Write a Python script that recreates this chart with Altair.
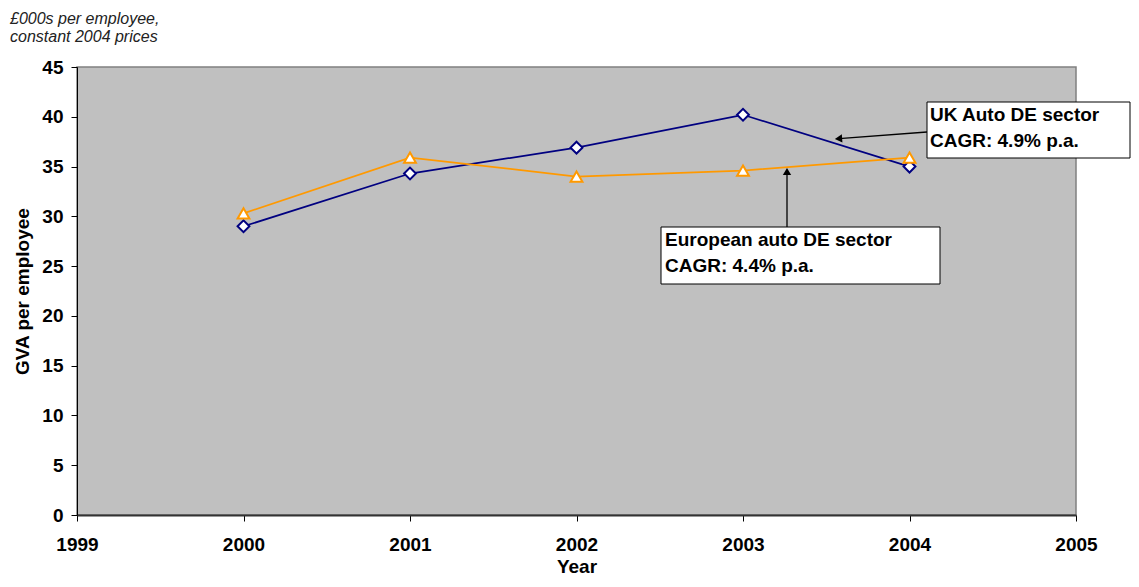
import altair as alt
import pandas as pd

# ---- data ----
years = [2000, 2001, 2002, 2003, 2004]
uk_gva = [29.0, 34.3, 36.9, 40.2, 35.0]
eu_gva = [30.3, 35.9, 34.0, 34.6, 35.9]
series = ["UK Auto DE sector", "European auto DE sector"]
x_ticks = [1999, 2000, 2001, 2002, 2003, 2004, 2005]
y_ticks = [0, 5, 10, 15, 20, 25, 30, 35, 40, 45]
uk_note = ["UK Auto DE sector", "CAGR: 4.9% p.a."]
eu_note = ["European auto DE sector", "CAGR: 4.4% p.a."]
unit_note = ["£000s per employee,", "constant 2004 prices"]

FONT = "Liberation Sans"

df = pd.DataFrame({
    "Year": years + years,
    "GVA": uk_gva + eu_gva,
    "Series": [series[0]] * len(years) + [series[1]] * len(years),
})

x = alt.X("Year:Q",
          scale=alt.Scale(domain=[1999, 2005], nice=False, zero=False),
          axis=alt.Axis(values=x_ticks, format="d", title="Year", tickSize=6,
                        labelPadding=14, titleY=57, titleBaseline="alphabetic",
                        domainColor="#333333", domainWidth=2, labelFlush=False,
                        labelOverlap=False))
y = alt.Y("GVA:Q",
          scale=alt.Scale(domain=[0, 45], nice=False),
          axis=alt.Axis(values=y_ticks, title="GVA per employee", tickSize=6,
                        labelPadding=8, titleX=-49, titleY=224,
                        titleBaseline="alphabetic", titleAlign="center",
                        domainColor="#000000", domainWidth=1, labelFlush=False,
                        labelOverlap=False))
color = alt.Color("Series:N", scale=alt.Scale(domain=series, range=["#000080", "#FF9900"]), legend=None)
shape = alt.Shape("Series:N", scale=alt.Scale(domain=series, range=["diamond", "triangle-up"]), legend=None)

lines = alt.Chart(df).mark_line(strokeWidth=1.75).encode(x=x, y=y, color=color, detail="Series:N")
points = alt.Chart(df).mark_point(filled=False, fill="white", fillOpacity=1, opacity=1,
                                  size=140, strokeWidth=2).encode(x=x, y=y, color=color, shape=shape)

one = pd.DataFrame({"k": [0]})
layers = [lines, points]

# annotation arrows
layers.append(alt.Chart(one).mark_rule(color="black", strokeWidth=1.3).encode(
    x=alt.value(850), y=alt.value(65), x2=alt.value(762), y2=alt.value(71.7)))
layers.append(alt.Chart(one).mark_point(shape="triangle-left", angle=356, filled=True,
                                        color="black", opacity=1, size=70).encode(
    x=alt.value(761.5), y=alt.value(71.7)))
layers.append(alt.Chart(one).mark_rule(color="black", strokeWidth=1.3).encode(
    x=alt.value(710), y=alt.value(160), y2=alt.value(105)))
layers.append(alt.Chart(one).mark_point(shape="triangle-up", filled=True,
                                        color="black", opacity=1, size=70).encode(
    x=alt.value(710), y=alt.value(104.5)))

# annotation boxes
layers.append(alt.Chart(one).mark_rect(fill="white", stroke="black", strokeWidth=1).encode(
    x=alt.value(850), x2=alt.value(1053), y=alt.value(35), y2=alt.value(91)))
layers.append(alt.Chart(one).mark_rect(fill="white", stroke="black", strokeWidth=1).encode(
    x=alt.value(584), x2=alt.value(863), y=alt.value(160), y2=alt.value(217)))

for txt, yy in zip(uk_note, [54, 80]):
    layers.append(alt.Chart(one).mark_text(align="left", baseline="alphabetic", font=FONT,
                                           fontSize=19, fontWeight="bold", color="black").encode(
        x=alt.value(853), y=alt.value(yy), text=alt.value(txt)))
for txt, yy in zip(eu_note, [179, 205]):
    layers.append(alt.Chart(one).mark_text(align="left", baseline="alphabetic", font=FONT,
                                           fontSize=19, fontWeight="bold", color="black").encode(
        x=alt.value(588), y=alt.value(yy), text=alt.value(txt)))
for txt, yy in zip(unit_note, [-43, -25]):
    layers.append(alt.Chart(one).mark_text(align="left", baseline="alphabetic", font=FONT,
                                           fontSize=16, fontStyle="italic", color="#222222").encode(
        x=alt.value(-67), y=alt.value(yy), text=alt.value(txt)))

chart = alt.layer(*layers).properties(
    width=999, height=448,
    autosize=alt.AutoSizeParams(type="none"),
    padding={"left": 69, "top": 59, "right": 55, "bottom": 64},
    background="white",
).configure_view(
    fill="#C0C0C0", stroke="#808080", strokeWidth=1.5
).configure_axis(
    grid=False, labelFont=FONT, titleFont=FONT, labelFontSize=19, titleFontSize=19,
    labelFontWeight="bold", titleFontWeight="bold", labelColor="black", titleColor="black",
    tickColor="black", tickWidth=1
)

chart.save("out.html", embed_options={"renderer": "svg", "actions": False})
